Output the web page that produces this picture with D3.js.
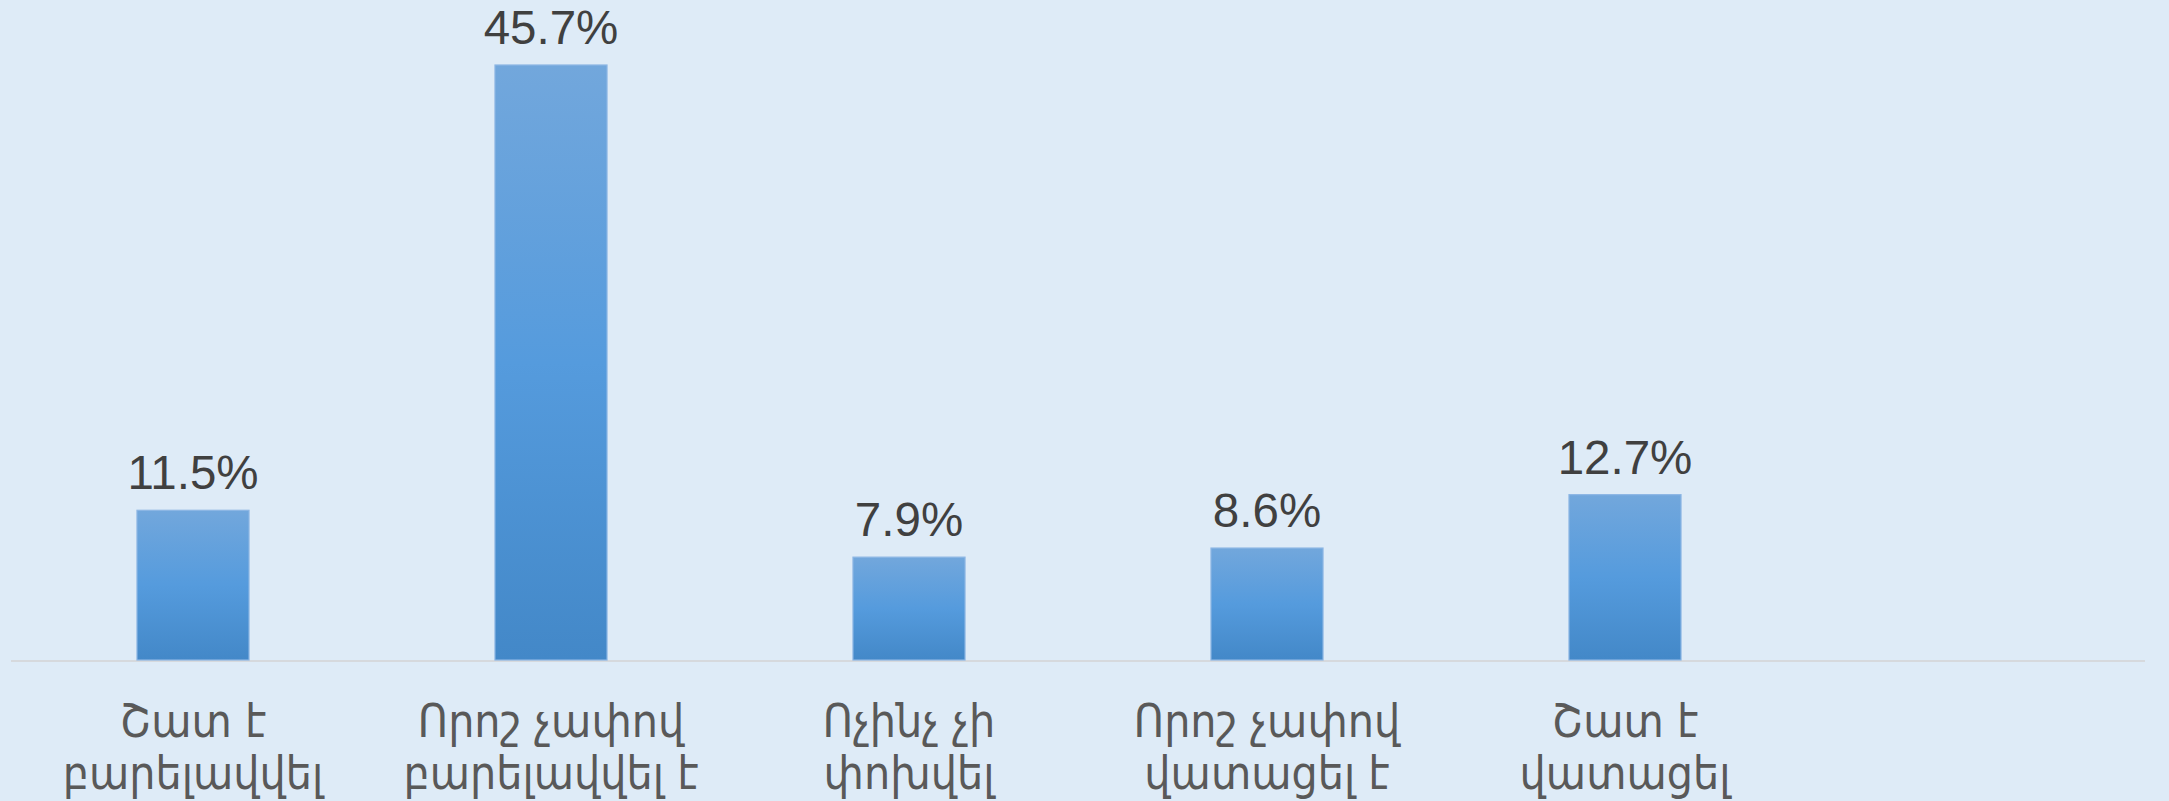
<!DOCTYPE html>
<html>
<head>
<meta charset="utf-8">
<script src="https://cdn.jsdelivr.net/npm/d3@7"></script>
<style>
html,body{margin:0;padding:0;background:#DEEBF7;}
svg{display:block;}
</style>
</head>
<body>
<svg id="chart" width="2169" height="801"></svg>
<script>
const categories = [
  "Շատ է\nբարելավվել",
  "Որոշ չափով\nբարելավվել է",
  "Ոչինչ չի\nփոխվել",
  "Որոշ չափով\nվատացել է",
  "Շատ է\nվատացել"
];
const values = [11.5, 45.7, 7.9, 8.6, 12.7];
const yDomain = [0, 50];

const W = 2169, H = 801;
const svg = d3.select("#chart");
svg.append("rect").attr("width", W).attr("height", H).attr("fill", "#DEEBF7");

const left = 14, step = 358, axisLeft = 11, axisRight = 2145;
const x = d3.scaleBand()
  .domain(categories)
  .range([left, left + step * categories.length])
  .paddingInner(0.687)
  .paddingOuter(0.3435);
const y = d3.scaleLinear().domain(yDomain).range([660, 9]);

const defs = svg.append("defs");
const grad = defs.append("linearGradient").attr("id", "barGrad")
  .attr("x1", 0).attr("y1", 0).attr("x2", 0).attr("y2", 1);
grad.append("stop").attr("offset", "0%").attr("stop-color", "#72A7DC");
grad.append("stop").attr("offset", "50%").attr("stop-color", "#559BDD");
grad.append("stop").attr("offset", "100%").attr("stop-color", "#4388C8");

// baseline
svg.append("line")
  .attr("x1", axisLeft).attr("x2", axisRight)
  .attr("y1", y(0) + 1).attr("y2", y(0) + 1)
  .attr("stroke", "#D6D9DD").attr("stroke-width", 2);

const data = categories.map((c, i) => ({c, v: values[i]}));

svg.append("g").selectAll("rect").data(data).join("rect")
  .attr("x", d => x(d.c))
  .attr("y", d => y(d.v))
  .attr("width", x.bandwidth())
  .attr("height", d => y(0) - y(d.v))
  .attr("fill", "url(#barGrad)")
  .attr("stroke", "#8DB6E4")
  .attr("stroke-width", 1.2);

svg.append("g").selectAll("text").data(data).join("text")
  .attr("x", d => x(d.c) + x.bandwidth() / 2)
  .attr("y", d => y(d.v) - 21)
  .attr("text-anchor", "middle")
  .attr("font-family", "'Liberation Sans', Arial, sans-serif")
  .attr("font-size", 47.5)
  .attr("fill", "#404040")
  .text(d => d.v.toFixed(1) + "%");

const labels = svg.append("g").selectAll("text").data(data).join("text")
  .attr("text-anchor", "middle")
  .attr("font-family", "'DejaVu Sans Condensed', 'DejaVu Sans', sans-serif")
  .attr("font-size", 46)
  .attr("fill", "#595959")
  .attr("transform", d => `translate(${x(d.c) + x.bandwidth() / 2},0)`);
labels.each(function(d) {
  const lines = d.c.split("\n");
  d3.select(this).selectAll("tspan").data(lines).join("tspan")
    .attr("x", 0)
    .attr("y", (l, i) => 737 + i * 52)
    .text(l => l);
});
</script>
</body>
</html>
